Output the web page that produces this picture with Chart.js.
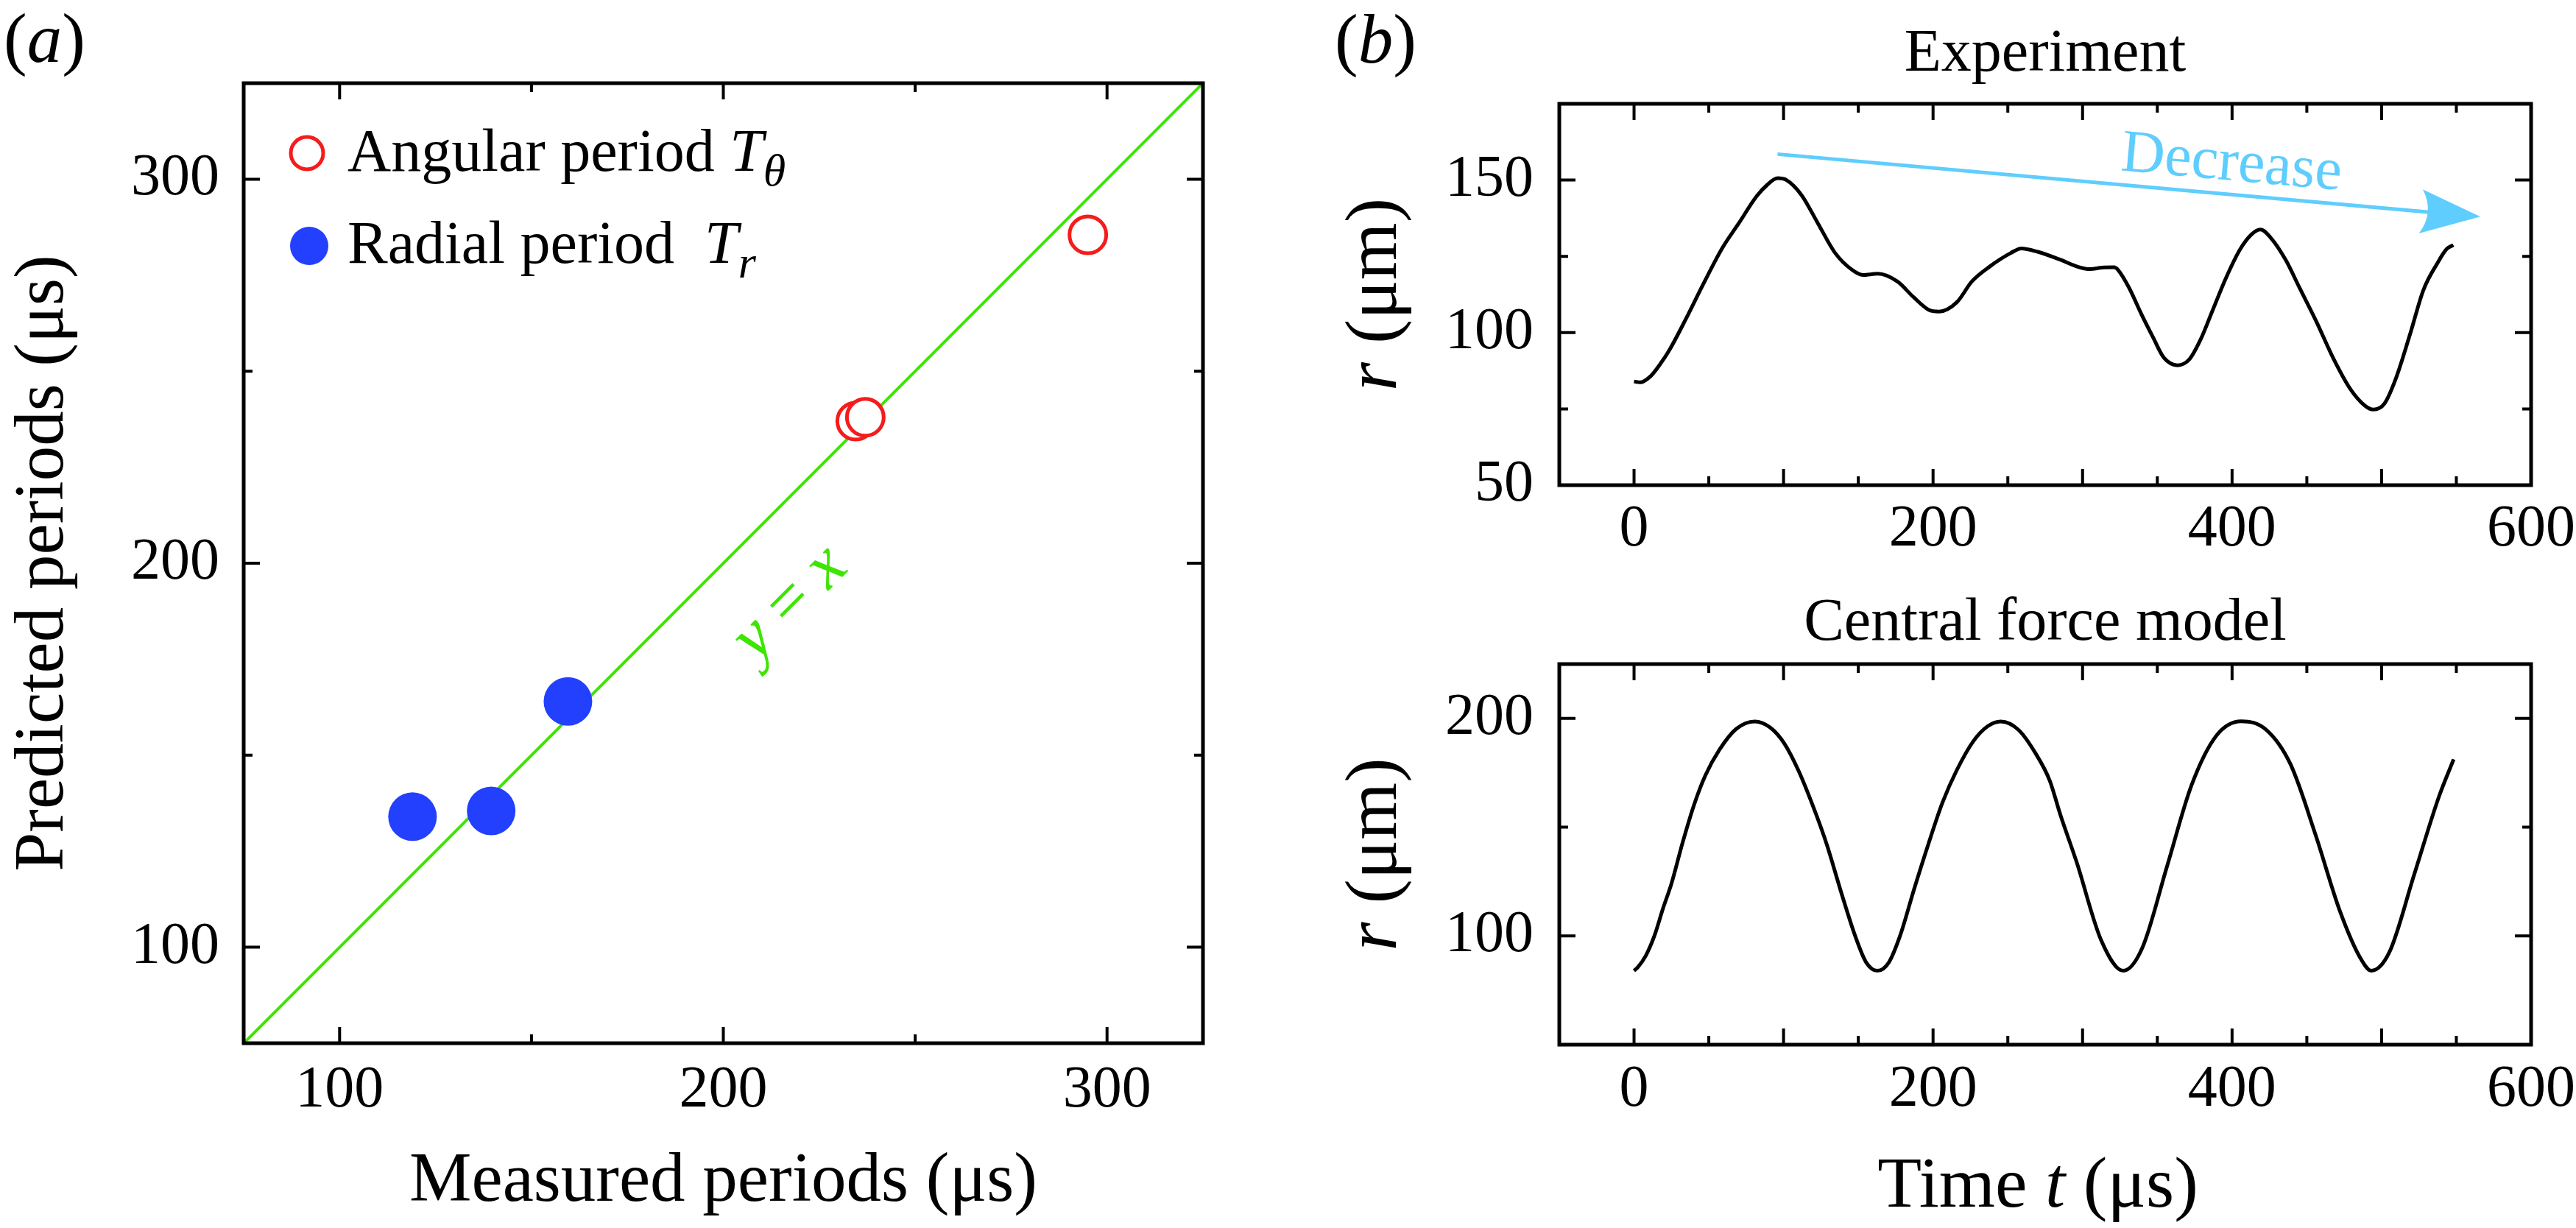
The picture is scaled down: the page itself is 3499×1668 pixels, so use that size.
<!DOCTYPE html>
<html>
<head>
<meta charset="utf-8">
<script src="https://cdn.jsdelivr.net/npm/chart.js@4.4.0/dist/chart.umd.min.js"></script>
<style>
  html, body { margin: 0; padding: 0; background: #fff; }
  #wrap { position: relative; width: 3499px; height: 1668px; overflow: hidden; background: #fff; }
  canvas { position: absolute; }
</style>
</head>
<body>
<div id="wrap">
  <canvas id="chartA" width="1750" height="1668" style="left:0;top:0"></canvas>
  <canvas id="chartB1" width="1749" height="800" style="left:1750px;top:0"></canvas>
  <canvas id="chartB2" width="1749" height="868" style="left:1750px;top:800px"></canvas>
</div>
<script>
// (a) measured vs predicted periods, µs
const angMeasured = [295, 234.5, 237];
const angPredicted = [285.5, 237, 238];
const radMeasured = [119, 139.5, 159.5];
const radPredicted = [134, 135.5, 164];
const refLine = [75, 325];

// (b) experiment r(t)
const expT = [0, 4, 11, 17.5, 24, 34.5, 46, 59, 70, 82, 89, 96, 102, 112, 123, 134.5, 146, 153, 163,
  176, 187, 197, 204, 216, 226, 238, 252, 259, 270, 284, 298, 305, 313, 321, 324, 331, 339.5, 347,
  354.5, 363.5, 371.5, 379, 386.5, 396, 405.5, 413, 419, 426, 436, 445, 456.5, 468, 479, 489, 494.5,
  502, 509.5, 519, 528, 537.5, 543.5, 548];
const expR = [84, 83.7, 85.7, 89.7, 94.6, 104.3, 115.6, 127.7, 135.8, 144.7, 148.4, 150.6, 150, 145.1,
  135.8, 126.1, 120.5, 118.9, 119.3, 116.8, 111.6, 107.5, 106.9, 110, 116.8, 121.7, 126.1, 127.6, 126.5,
  124.1, 121.4, 120.8, 121.3, 121.4, 120.4, 114.8, 105.9, 98.6, 91.7, 89.3, 91.3, 97.8, 106.7, 118,
  127.4, 132.2, 133.8, 131, 123.7, 114.8, 103.5, 91.3, 81.6, 76, 74.8, 76.8, 84.9, 99.4, 114, 122.9,
  127.4, 128.7];

// (b) central force model r(t)
const cfT = [0, 2.4, 8, 13.7, 19.4, 25, 32.6, 40.1, 47.7, 57.1, 68.4, 80.7, 91.1, 100.5, 110, 119.4,
  128.9, 138.3, 147.8, 155.3, 162.8, 170.4, 178, 187.4, 196.8, 206.3, 215.7, 227, 236.5, 245.3, 257.2,
  268.6, 278, 285.2, 296, 312.4, 327.3, 339.9, 356.5, 373, 389.5, 406.1, 422.6, 439.1, 455.6, 472.2,
  485.9, 493.1, 505.2, 521.8, 538.3, 548.2];
const cfR = [84, 85.5, 91.1, 100.2, 112.7, 124, 143.2, 160.2, 173.8, 185.6, 195.2, 198.6, 195.8, 188.5,
  176, 160.2, 142.1, 120.6, 100.2, 87.8, 84, 87.8, 100.2, 121.7, 142.1, 161.3, 176, 189.6, 196.4, 198.6,
  194.7, 183.9, 171.5, 155.6, 134, 98.1, 84, 94.4, 132, 169.5, 192.1, 198.7, 194.9, 178.9, 147, 111.3,
  89.7, 84, 92.5, 128.2, 163.9, 181.2];

// tick labels / tick marks
const aTicks = [100, 200, 300];
const aMinor = [150, 250];
const bXTicks = [0, 200, 400, 600];
const bXMajor = [0, 100, 200, 300, 400, 500];
const bXMinor = [50, 150, 250, 350, 450, 550];
const expYTicks = [50, 100, 150];
const expYMinor = [75, 125];
const cfYTicks = [100, 200];
const cfYMinor = [150];

// "Decrease" arrow, data coords of panel (b) top
const arrowFrom = [96, 158.5];
const arrowTo = [566, 138];

const SERIF = '"Liberation Serif", "Times New Roman", serif';
const font = (size, style) => (style ? style + ' ' : '') + size + 'px ' + SERIF;
const RED = '#f41c1c';
const BLUE = '#2340ff';
const GREEN = '#3de500';
const SKY = '#5fcdfe';

Chart.defaults.font.family = SERIF;
Chart.defaults.color = '#000';

const pts = (xs, ys) => xs.map((v, i) => ({ x: v, y: ys[i] }));

function drawRuns(ctx, runs, x, y, align) {
  let total = 0;
  runs.forEach(r => { ctx.font = r[1]; total += ctx.measureText(r[0]).width; });
  let cx = align === 'center' ? x - total / 2 : x;
  runs.forEach(r => {
    ctx.font = r[1];
    ctx.fillText(r[0], cx, y + (r[2] || 0));
    cx += ctx.measureText(r[0]).width;
  });
}

// box frame with inward ticks on all four sides
const frameTicks = {
  id: 'frameTicks',
  afterDatasetsDraw(chart, args, o) {
    const { ctx, chartArea: a, scales: { x, y } } = chart;
    ctx.save();
    ctx.strokeStyle = '#000';
    ctx.lineWidth = 4;
    ctx.beginPath();
    const tx = (v, len) => {
      const p = x.getPixelForValue(v);
      ctx.moveTo(p, a.bottom); ctx.lineTo(p, a.bottom - len);
      ctx.moveTo(p, a.top); ctx.lineTo(p, a.top + len);
    };
    const ty = (v, len) => {
      const p = y.getPixelForValue(v);
      ctx.moveTo(a.left, p); ctx.lineTo(a.left + len, p);
      ctx.moveTo(a.right, p); ctx.lineTo(a.right - len, p);
    };
    o.xMajor.forEach(v => tx(v, 22));
    o.xMinor.forEach(v => tx(v, 12));
    o.yMajor.forEach(v => ty(v, 22));
    o.yMinor.forEach(v => ty(v, 12));
    ctx.stroke();
    ctx.lineWidth = 5;
    ctx.strokeRect(a.left, a.top, a.right - a.left, a.bottom - a.top);
    ctx.restore();
  }
};

// fixed axis sizes so the plot boxes land where they should
const fixW = w => s => { s.width = w; s.paddingTop = 0; s.paddingBottom = 0; };
const fixH = h => s => { s.height = h; s.paddingLeft = 0; s.paddingRight = 0; };
const setTicks = list => s => { s.ticks = list.map(v => ({ value: v })); };

const base = {
  responsive: false,
  animation: false,
  devicePixelRatio: 1,
  events: [],
};

// ---------- (a) ----------
const labelsA = {
  id: 'labelsA',
  afterDraw(chart) {
    const { ctx, chartArea: a, scales: { x, y } } = chart;
    ctx.save();
    ctx.fillStyle = '#000';
    ctx.textBaseline = 'alphabetic';
    drawRuns(ctx, [['(', font(95)], ['a', font(95, 'italic')], [')', font(95)]], 5, 84);

    // legend
    ctx.lineWidth = 5;
    ctx.strokeStyle = RED;
    ctx.fillStyle = '#fff';
    ctx.beginPath(); ctx.arc(a.left + 86, a.top + 95, 22, 0, Math.PI * 2); ctx.fill(); ctx.stroke();
    ctx.fillStyle = BLUE;
    ctx.beginPath(); ctx.arc(a.left + 89, a.top + 221, 26, 0, Math.PI * 2); ctx.fill();
    ctx.fillStyle = '#000';
    drawRuns(ctx, [['Angular period ', font(82)], ['T', font(82, 'italic')], ['\u03b8', font(62, 'italic'), 20]],
      a.left + 141, a.top + 119);
    drawRuns(ctx, [['Radial period  ', font(82)], ['T', font(82, 'italic')], ['r', font(62, 'italic'), 20]],
      a.left + 141, a.top + 244);

    // y = x tag
    ctx.translate(x.getPixelForValue(217.5), y.getPixelForValue(189.5));
    ctx.rotate(-Math.PI / 4);
    ctx.fillStyle = GREEN;
    ctx.textBaseline = 'middle';
    drawRuns(ctx, [['y', font(92, 'italic')], [' = ', font(92)], ['x', font(92, 'italic')]], 0, 0, 'center');
    ctx.restore();
  }
};

new Chart(document.getElementById('chartA'), {
  type: 'scatter',
  data: {
    datasets: [
      { type: 'line', data: pts(refLine, refLine), borderColor: GREEN, borderWidth: 4, pointRadius: 0, order: 3 },
      { data: pts(angMeasured, angPredicted), pointRadius: 25, borderWidth: 5, borderColor: RED,
        backgroundColor: '#fff', order: 2 },
      { data: pts(radMeasured, radPredicted), pointRadius: 33, borderWidth: 0, backgroundColor: BLUE, order: 1 }
    ]
  },
  options: {
    ...base,
    layout: { padding: { top: 113, right: 116, left: 0, bottom: 0 } },
    plugins: { legend: { display: false }, tooltip: { enabled: false },
      frameTicks: { xMajor: aTicks, xMinor: aMinor, yMajor: aTicks, yMinor: aMinor } },
    scales: {
      x: {
        type: 'linear', min: 75, max: 325,
        afterBuildTicks: setTicks(aTicks), afterFit: fixH(251),
        grid: { display: false, drawTicks: false }, border: { display: false },
        ticks: { padding: 17, font: { size: 80 }, maxRotation: 0 },
        title: { display: true, text: 'Measured periods (\u03bcs)', font: { size: 95 }, padding: { top: 0, bottom: 5 } }
      },
      y: {
        type: 'linear', min: 75, max: 325,
        afterBuildTicks: setTicks(aTicks), afterFit: fixW(331),
        grid: { display: false, drawTicks: false }, border: { display: false },
        ticks: { padding: 33, font: { size: 80 } },
        title: { display: true, text: 'Predicted periods (\u03bcs)', font: { size: 95 }, padding: { top: 3, bottom: 0 } }
      }
    }
  },
  plugins: [frameTicks, labelsA]
});

// ---------- (b) ----------
function rLabel(ctx, cy) {
  ctx.save();
  ctx.fillStyle = '#000';
  ctx.textBaseline = 'alphabetic';
  ctx.translate(146, cy);
  ctx.rotate(-Math.PI / 2);
  drawRuns(ctx, [['r', font(100, 'italic')], [' (\u03bcm)', font(100)]], 0, 0, 'center');
  ctx.restore();
}

const labelsB1 = {
  id: 'labelsB1',
  afterDraw(chart) {
    const { ctx, chartArea: a, scales: { x, y } } = chart;
    ctx.save();
    ctx.fillStyle = '#000';
    drawRuns(ctx, [['(', font(95)], ['b', font(95, 'italic')], [')', font(95)]], 63, 85);
    ctx.textAlign = 'center';
    ctx.font = font(82);
    ctx.fillText('Experiment', (a.left + a.right) / 2, 96);
    ctx.textAlign = 'left';
    rLabel(ctx, (a.top + a.bottom) / 2);

    // Decrease arrow
    const x0 = x.getPixelForValue(arrowFrom[0]), y0 = y.getPixelForValue(arrowFrom[1]);
    const x1 = x.getPixelForValue(arrowTo[0]), y1 = y.getPixelForValue(arrowTo[1]);
    const len = Math.hypot(x1 - x0, y1 - y0);
    const ux = (x1 - x0) / len, uy = (y1 - y0) / len;
    const px = -uy, py = ux;
    const head = 81, half = 30;
    ctx.strokeStyle = SKY;
    ctx.fillStyle = SKY;
    ctx.lineWidth = 5;
    ctx.beginPath();
    ctx.moveTo(x0, y0);
    ctx.lineTo(x1 - (head - 12) * ux, y1 - (head - 12) * uy);
    ctx.stroke();
    ctx.beginPath();
    ctx.moveTo(x1, y1);
    ctx.lineTo(x1 - head * ux + half * px, y1 - head * uy + half * py);
    ctx.quadraticCurveTo(x1 - 62 * ux, y1 - 62 * uy, x1 - head * ux - half * px, y1 - head * uy - half * py);
    ctx.closePath();
    ctx.fill();

    ctx.translate(x.getPixelForValue(325), y.getPixelForValue(153.2));
    ctx.rotate(Math.atan2(uy, ux));
    ctx.font = font(82);
    ctx.fillText('Decrease', 0, 0);
    ctx.restore();
  }
};

const labelsB2 = {
  id: 'labelsB2',
  afterDraw(chart) {
    const { ctx, chartArea: a } = chart;
    ctx.save();
    ctx.fillStyle = '#000';
    ctx.textAlign = 'center';
    ctx.font = font(82);
    ctx.fillText('Central force model', (a.left + a.right) / 2, 69);
    ctx.textAlign = 'left';
    drawRuns(ctx, [['Time ', font(98)], ['t', font(98, 'italic')], [' (\u03bcs)', font(98)]], 1018, 839, 'center');
    ctx.restore();
    rLabel(ctx, (a.top + a.bottom) / 2);
  }
};

function traceChart(id, xs, ys, yMin, yMax, yTicks, yMinor, padTop, xAxisH, xPad, labels) {
  return new Chart(document.getElementById(id), {
    type: 'line',
    data: {
      datasets: [{ data: pts(xs, ys), borderColor: '#000', borderWidth: 5, pointRadius: 0,
        cubicInterpolationMode: 'monotone', fill: false }]
    },
    options: {
      ...base,
      layout: { padding: { top: padTop, right: 61, left: 0, bottom: 0 } },
      plugins: { legend: { display: false }, tooltip: { enabled: false },
        frameTicks: { xMajor: bXMajor, xMinor: bXMinor, yMajor: yTicks, yMinor: yMinor } },
      scales: {
        x: {
          type: 'linear', min: -50, max: 600,
          afterBuildTicks: setTicks(bXTicks), afterFit: fixH(xAxisH),
          grid: { display: false, drawTicks: false }, border: { display: false },
          ticks: { padding: xPad, font: { size: 80 }, maxRotation: 0 }
        },
        y: {
          type: 'linear', min: yMin, max: yMax,
          afterBuildTicks: setTicks(yTicks), afterFit: fixW(368),
          grid: { display: false, drawTicks: false }, border: { display: false },
          ticks: { padding: 35, font: { size: 80 } }
        }
      }
    },
    plugins: [frameTicks, labels]
  });
}

traceChart('chartB1', expT, expR, 50, 175, expYTicks, expYMinor, 141, 141, 13, labelsB1);
traceChart('chartB2', cfT, cfR, 50, 225, cfYTicks, cfYMinor, 102, 249, 14, labelsB2);
</script>
</body>
</html>
